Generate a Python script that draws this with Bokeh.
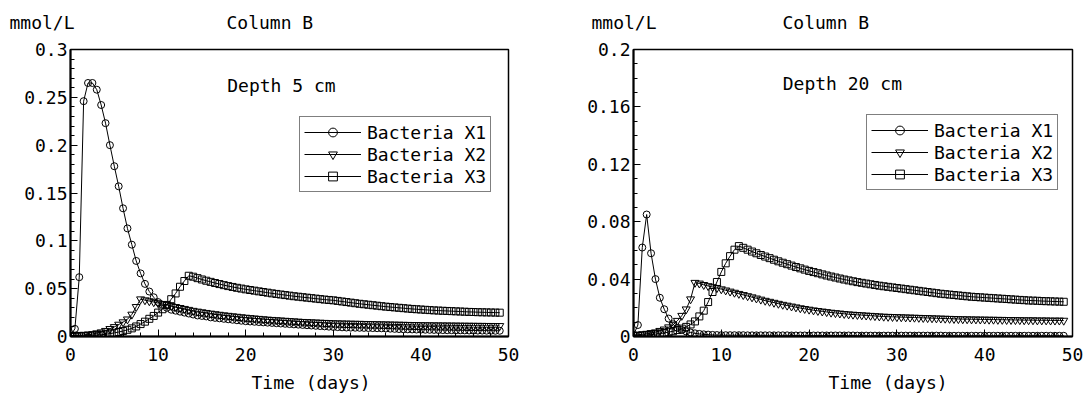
from bokeh.plotting import figure
from bokeh.layouts import row, column
from bokeh.models import (Legend, LegendItem, Label, FixedTicker,
                          CustomJSTickFormatter, Range1d)
from bokeh.embed import file_html
from bokeh.resources import INLINE

FONT = "DejaVu Sans Mono"

# sampling grid (every half day, 0 .. 49)
DAYS = [i / 2 for i in range(99)]

SERIES_NAMES = ["Bacteria X1", "Bacteria X2", "Bacteria X3"]

X_TICKS = [0, 10, 20, 30, 40, 50]
Y_TICKS_5CM = [0, 0.05, 0.1, 0.15, 0.2, 0.25, 0.3]
Y_TICKS_20CM = [0, 0.04, 0.08, 0.12, 0.16, 0.2]

# ---------- Depth 5 cm ----------
X1_5CM = [0.001, 0.008, 0.062, 0.246, 0.265, 0.265, 0.258, 0.242, 0.223, 0.200,
          0.178, 0.157, 0.134, 0.113, 0.096, 0.079, 0.066, 0.055, 0.047, 0.041,
          0.036, 0.033, 0.030, 0.028, 0.027, 0.026, 0.025, 0.024, 0.023, 0.022,
          0.0215, 0.021, 0.020, 0.0195, 0.019, 0.0185, 0.018, 0.0175, 0.017, 0.0165,
          0.016, 0.0157, 0.0154, 0.0151, 0.0148, 0.0145, 0.0142, 0.0139, 0.0136, 0.0133,
          0.013, 0.0127, 0.0124, 0.0121, 0.0118, 0.0115, 0.0112, 0.0109, 0.0106, 0.0103,
          0.010, 0.0098, 0.0096, 0.0094, 0.0093, 0.0092, 0.0091, 0.0090, 0.0089, 0.0088,
          0.0087, 0.0086, 0.0084, 0.0082, 0.0080, 0.0078, 0.0076, 0.0075, 0.0074, 0.0073,
          0.0072, 0.0071, 0.0070, 0.0069, 0.0068, 0.0067, 0.0066, 0.0066, 0.0065, 0.0065,
          0.0064, 0.0063, 0.0063, 0.0062, 0.0062, 0.0061, 0.0061, 0.0060, 0.0060]

X2_5CM = [0.001, 0.001, 0.0012, 0.0015, 0.002, 0.0025, 0.0035, 0.0045, 0.006, 0.008,
          0.010, 0.0125, 0.015, 0.018, 0.023, 0.031, 0.039, 0.038, 0.037, 0.036,
          0.035, 0.034, 0.033, 0.032, 0.031, 0.030, 0.029, 0.028, 0.027, 0.0262,
          0.0255, 0.0248, 0.0241, 0.0235, 0.0229, 0.0223, 0.0218, 0.0213, 0.0208, 0.0203,
          0.0198, 0.0194, 0.019, 0.0186, 0.0182, 0.0178, 0.0175, 0.0172, 0.0169, 0.0166,
          0.0163, 0.016, 0.0157, 0.0154, 0.0152, 0.015, 0.0148, 0.0146, 0.0144, 0.0142,
          0.014, 0.0139, 0.0138, 0.0137, 0.0136, 0.0135, 0.0134, 0.0133, 0.0132, 0.0131,
          0.013, 0.0129, 0.0128, 0.0127, 0.0126, 0.0125, 0.0124, 0.0123, 0.0122, 0.0121,
          0.012, 0.0119, 0.0119, 0.0118, 0.0118, 0.0117, 0.0117, 0.0116, 0.0116, 0.0115,
          0.0115, 0.0114, 0.0114, 0.0113, 0.0113, 0.0112, 0.0112, 0.0111, 0.0111]

X3_5CM = [0.0005, 0.0005, 0.0006, 0.0007, 0.0009, 0.0011, 0.0014, 0.0018, 0.0023, 0.003,
          0.0038, 0.0047, 0.0057, 0.007, 0.0085, 0.0105, 0.013, 0.0155, 0.0185, 0.0215,
          0.025, 0.0285, 0.033, 0.039, 0.045, 0.052, 0.058, 0.0635, 0.0625, 0.061,
          0.0596, 0.0583, 0.0571, 0.0559, 0.0548, 0.0537, 0.0527, 0.0518, 0.0509, 0.0501,
          0.0493, 0.0486, 0.0479, 0.0472, 0.0465, 0.0458, 0.0451, 0.0445, 0.0439, 0.0433,
          0.0427, 0.0421, 0.0416, 0.0411, 0.0406, 0.0401, 0.0396, 0.0391, 0.0386, 0.0382,
          0.0378, 0.0372, 0.0366, 0.036, 0.0354, 0.0348, 0.0342, 0.0337, 0.0332, 0.0327,
          0.0322, 0.0317, 0.0312, 0.0308, 0.0304, 0.030, 0.0296, 0.0292, 0.0288, 0.0285,
          0.0282, 0.0279, 0.0276, 0.0273, 0.0271, 0.0269, 0.0267, 0.0265, 0.0263, 0.0261,
          0.0259, 0.0257, 0.0256, 0.0254, 0.0253, 0.0252, 0.0251, 0.025, 0.0249]

# ---------- Depth 20 cm ----------
X1_20CM = [0.001, 0.008, 0.062, 0.085, 0.058, 0.040, 0.027, 0.019, 0.0125, 0.0085,
           0.006, 0.0045, 0.0035, 0.0028, 0.0022, 0.0018, 0.0015, 0.0013, 0.0011, 0.001,
           0.0009, 0.0009, 0.0009, 0.0009, 0.0009, 0.0009, 0.0008, 0.0008, 0.0008, 0.0008,
           0.0008, 0.0008, 0.0008, 0.0008, 0.0008, 0.0008, 0.0007, 0.0007, 0.0007, 0.0007,
           0.0007, 0.0007, 0.0007, 0.0007, 0.0007, 0.0007, 0.0007, 0.0007, 0.0007, 0.0007,
           0.0007, 0.0006, 0.0006, 0.0006, 0.0006, 0.0006, 0.0006, 0.0006, 0.0006, 0.0006,
           0.0006, 0.0006, 0.0006, 0.0006, 0.0006, 0.0006, 0.0006, 0.0006, 0.0006, 0.0006,
           0.0006, 0.0005, 0.0005, 0.0005, 0.0005, 0.0005, 0.0005, 0.0005, 0.0005, 0.0005,
           0.0005, 0.0005, 0.0005, 0.0005, 0.0005, 0.0005, 0.0005, 0.0005, 0.0005, 0.0005,
           0.0005, 0.0005, 0.0005, 0.0005, 0.0005, 0.0005, 0.0005, 0.0005, 0.0005]

X2_20CM = [0.001, 0.0012, 0.0015, 0.002, 0.0025, 0.003, 0.004, 0.005, 0.0065, 0.008,
           0.011, 0.0145, 0.019, 0.026, 0.0375, 0.037, 0.036, 0.0352, 0.0345, 0.0338,
           0.033, 0.0322, 0.0314, 0.0306, 0.0298, 0.029, 0.0282, 0.0274, 0.0266, 0.0258,
           0.025, 0.0243, 0.0236, 0.0229, 0.0222, 0.0216, 0.021, 0.0204, 0.0198, 0.0193,
           0.0188, 0.0183, 0.0179, 0.0175, 0.0171, 0.0167, 0.0164, 0.0161, 0.0158, 0.0155,
           0.0153, 0.0151, 0.0149, 0.0147, 0.0145, 0.0143, 0.0141, 0.0139, 0.0138, 0.0137,
           0.0136, 0.0135, 0.0134, 0.0133, 0.0132, 0.0131, 0.013, 0.0129, 0.0128, 0.0127,
           0.0126, 0.0125, 0.0124, 0.0123, 0.0122, 0.0121, 0.0121, 0.012, 0.012, 0.0119,
           0.0119, 0.0118, 0.0118, 0.0117, 0.0117, 0.0116, 0.0116, 0.0115, 0.0115, 0.0114,
           0.0114, 0.0114, 0.0113, 0.0113, 0.0113, 0.0112, 0.0112, 0.0112, 0.0111]

X3_20CM = [0.0005, 0.0006, 0.0008, 0.001, 0.0013, 0.0016, 0.002, 0.0025, 0.003, 0.0037,
           0.0045, 0.0055, 0.0067, 0.0084, 0.0105, 0.014, 0.018, 0.024, 0.031, 0.038,
           0.045, 0.051, 0.056, 0.0605, 0.063, 0.0618, 0.0605, 0.0592, 0.058, 0.0568,
           0.0557, 0.0546, 0.0535, 0.0524, 0.0514, 0.0504, 0.0494, 0.0484, 0.0475, 0.0466,
           0.0457, 0.0449, 0.0441, 0.0433, 0.0425, 0.0418, 0.0411, 0.0404, 0.0397, 0.0391,
           0.0385, 0.0379, 0.0374, 0.0369, 0.0364, 0.0359, 0.0354, 0.035, 0.0346, 0.0342,
           0.0338, 0.0334, 0.033, 0.0326, 0.0322, 0.0318, 0.0314, 0.031, 0.0306, 0.0302,
           0.0298, 0.0295, 0.0292, 0.0289, 0.0286, 0.0283, 0.028, 0.0277, 0.0275, 0.0273,
           0.0271, 0.0269, 0.0267, 0.0265, 0.0263, 0.0261, 0.0259, 0.0257, 0.0255, 0.0253,
           0.0251, 0.025, 0.0249, 0.0247, 0.0246, 0.0245, 0.0244, 0.0243, 0.0242]

MARKERS = ["circle", "inverted_triangle", "square"]
MARKER_SIZES = [7, 8, 7]
PANEL_W = 543
PAGE_W = 1086


def text_strip(height, texts):
    """A plain strip (no axes) whose frame is the whole canvas; coordinates in px."""
    s = figure(width=PAGE_W, height=height, output_backend="svg",
               toolbar_location=None, x_axis_type=None, y_axis_type=None,
               x_range=Range1d(0, PAGE_W), y_range=Range1d(height, 0),
               min_border=0)
    s.outline_line_color = None
    s.grid.visible = False
    s.background_fill_color = "white"
    s.border_fill_color = "white"
    for txt, x, y in texts:
        s.add_layout(Label(x=x, y=y, text=txt, text_font=FONT, text_font_size="18px",
                           text_align="left", text_baseline="middle",
                           text_color="black"))
    return s


def make_panel(series, ymax, yticks, yminor, depth_txt, borders, legend_loc,
               depth_pos):
    left, right, top, bottom, frame_h = borders
    p = figure(width=PANEL_W, height=top + frame_h + bottom, output_backend="svg",
               toolbar_location=None,
               x_range=Range1d(0, 50), y_range=Range1d(0, ymax),
               min_border_left=left, min_border_right=right,
               min_border_top=top, min_border_bottom=bottom)
    p.background_fill_color = "white"
    p.border_fill_color = "white"
    p.outline_line_color = "black"
    p.outline_line_width = 1.5
    p.grid.visible = False

    p.xaxis.ticker = FixedTicker(ticks=X_TICKS, minor_ticks=list(range(0, 51, 2)))
    p.yaxis.ticker = FixedTicker(ticks=yticks, minor_ticks=yminor)
    p.yaxis.formatter = CustomJSTickFormatter(
        code="return String(Math.round(tick*1000)/1000);")
    for ax in (p.xaxis[0], p.yaxis[0]):
        ax.axis_line_color = "black"
        ax.axis_line_width = 2
        ax.major_tick_in = 7
        ax.major_tick_out = 0
        ax.minor_tick_in = 4
        ax.minor_tick_out = 0
        ax.major_tick_line_color = "black"
        ax.minor_tick_line_color = "black"
        ax.major_label_text_font = FONT
        ax.major_label_text_font_size = "18px"
        ax.major_label_text_color = "black"
    p.xaxis.major_label_standoff = 11
    p.yaxis.major_label_standoff = 3

    items = []
    for vals, name, mk, ms in zip(series, SERIES_NAMES, MARKERS, MARKER_SIZES):
        ln = p.line(DAYS, vals, line_color="black", line_width=1)
        sc = p.scatter(DAYS, vals, marker=mk, size=ms, line_color="black",
                       line_width=1, fill_alpha=0)
        items.append(LegendItem(label=name, renderers=[ln, sc]))

    legend = Legend(items=items, location=legend_loc, margin=0, padding=4,
                    spacing=0, label_height=22, glyph_height=22, glyph_width=57,
                    label_standoff=6, label_text_font=FONT,
                    label_text_font_size="18px", label_text_color="black",
                    border_line_color="black", border_line_width=1,
                    background_fill_color="white", background_fill_alpha=1)
    p.add_layout(legend)

    p.add_layout(Label(x=depth_pos[0], y=depth_pos[1], text=depth_txt, text_font=FONT,
                       text_font_size="18px", text_align="left",
                       text_baseline="middle", text_color="black"))
    return p


minor_5 = [round(i * 0.01, 2) for i in range(31)]
minor_20 = [round(i * 0.01, 2) for i in range(21)]

header = text_strip(33, [("mmol/L", 9, 22), ("Column B", 226, 22),
                         ("mmol/L", 591, 22), ("Column B", 782, 22)])
p1 = make_panel([X1_5CM, X2_5CM, X3_5CM], 0.3, Y_TICKS_5CM, minor_5, "Depth 5 cm",
                (70, 35, 12, 32, 291), (229, 144), (17.89, 0.2622))
p2 = make_panel([X1_20CM, X2_20CM, X3_20CM], 0.2, Y_TICKS_20CM, minor_20, "Depth 20 cm",
                (90, 14, 16, 30, 289), (233, 146), (17.0, 0.1763))
footer = text_strip(28, [("Time (days)", 251, 14), ("Time (days)", 828, 14)])

layout = column(header, row(p1, p2), footer)
open("out.html", "w").write(file_html(layout, INLINE))
